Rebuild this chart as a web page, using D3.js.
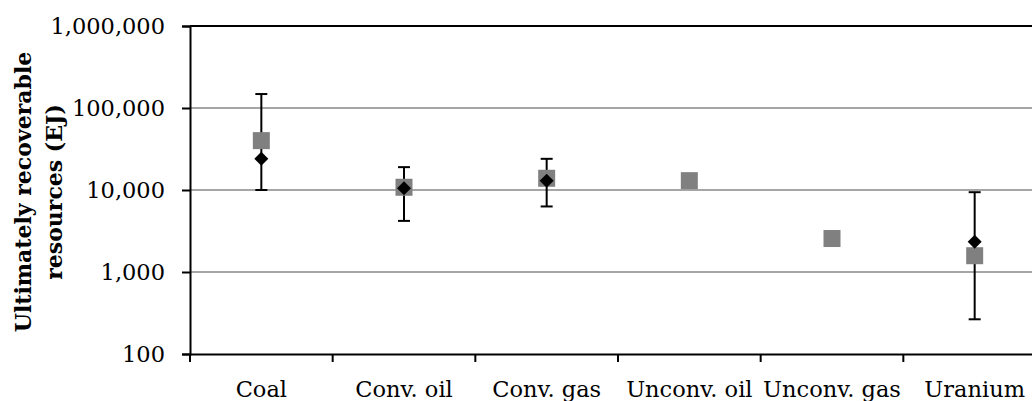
<!DOCTYPE html>
<html>
<head>
<meta charset="utf-8">
<script src="https://cdn.jsdelivr.net/npm/d3@7"></script>
<style>
    html, body { margin: 0; padding: 0; background: #fff; }
</style>
</head>
<body>
<div id="chart"></div>
<script>
const categories = ["Coal", "Conv. oil", "Conv. gas", "Unconv. oil", "Unconv. gas", "Uranium"];
// grey squares
const squareValues = [40000, 10800, 13900, 13000, 2560, 1580];
// black diamonds with their low / high range (null where there is none)
const diamondValues = [24000, 10500, 13000, null, null, 2340];
const rangeLow = [10000, 4200, 6300, null, null, 265];
const rangeHigh = [148000, 19000, 24000, null, null, 9400];
const yTicks = [100, 1000, 10000, 100000, 1000000];
const yTitle = ["Ultimately recoverable", "resources (EJ)"];

const config = {
    width: 1032,
    height: 401,
    margin: { top: 26, right: -14, bottom: 47, left: 190 },
    font: "'DejaVu Serif', serif",
    grid: "#a6a6a6",
    square: "#808080",
};

const svg = d3.select("#chart").append("svg")
    .attr("width", config.width)
    .attr("height", config.height)
    .attr("viewBox", [0, 0, config.width, config.height]);

const x = d3.scaleBand()
    .domain(categories)
    .range([config.margin.left, config.width - config.margin.right]);

const y = d3.scaleLog()
    .domain([100, 1000000])
    .range([config.height - config.margin.bottom, config.margin.top]);

const fmt = d3.format(",");

// gridlines
svg.append("g")
    .selectAll("line")
    .data(yTicks.slice(1, -1))
    .join("line")
    .attr("x1", x.range()[0])
    .attr("x2", x.range()[1])
    .attr("y1", d => y(d))
    .attr("y2", d => y(d))
    .attr("stroke", config.grid)
    .attr("stroke-width", 2);

// top border of the plot area
svg.append("line")
    .attr("x1", x.range()[0])
    .attr("x2", x.range()[1])
    .attr("y1", y(1000000))
    .attr("y2", y(1000000))
    .attr("stroke", "#000")
    .attr("stroke-width", 2);

// y axis
svg.append("g")
    .attr("transform", `translate(${config.margin.left},0)`)
    .call(d3.axisLeft(y).tickValues(yTicks).tickFormat(fmt).tickSize(8).tickPadding(17))
    .call(g => g.selectAll(".domain").attr("stroke-width", 2))
    .call(g => g.selectAll(".tick line").attr("stroke-width", 2))
    .call(g => g.selectAll("text")
        .attr("font-family", config.font)
        .attr("font-size", 22.5)
        .attr("fill", "#000"));

// x axis
const xAxis = svg.append("g")
    .attr("transform", `translate(0,${y(100)})`)
    .call(d3.axisBottom(x).tickSize(0).tickPadding(27))
    .call(g => g.selectAll(".domain").attr("stroke-width", 2))
    .call(g => g.selectAll("text")
        .attr("font-family", config.font)
        .attr("font-size", 22.5)
        .attr("fill", "#000"));

// category boundary ticks
xAxis.append("g")
    .selectAll("line")
    .data(categories)
    .join("line")
    .attr("x1", d => x(d))
    .attr("x2", d => x(d))
    .attr("y1", 0)
    .attr("y2", 8)
    .attr("stroke", "#000")
    .attr("stroke-width", 2);

// y title
const title = svg.append("text")
    .attr("transform", `translate(0,${(y(100) + y(1000000)) / 2 + 2}) rotate(-90)`)
    .attr("text-anchor", "middle")
    .attr("font-family", config.font)
    .attr("font-weight", "bold")
    .attr("font-size", 22);
title.selectAll("tspan")
    .data(yTitle)
    .join("tspan")
    .attr("x", 0)
    .attr("y", (d, i) => 31 + i * 31)
    .text(d => d);

const cx = d => x(d) + x.bandwidth() / 2;

// error bars
const bars = svg.append("g")
    .attr("stroke", "#000")
    .attr("stroke-width", 2)
    .selectAll("g")
    .data(categories.map((c, i) => ({ c, lo: rangeLow[i], hi: rangeHigh[i] })).filter(d => d.lo != null))
    .join("g");

bars.append("line")
    .attr("x1", d => cx(d.c))
    .attr("x2", d => cx(d.c))
    .attr("y1", d => y(d.lo))
    .attr("y2", d => y(d.hi));

bars.selectAll(".cap")
    .data(d => [{ c: d.c, v: d.lo }, { c: d.c, v: d.hi }])
    .join("line")
    .attr("class", "cap")
    .attr("x1", d => cx(d.c) - 6)
    .attr("x2", d => cx(d.c) + 6)
    .attr("y1", d => y(d.v))
    .attr("y2", d => y(d.v));

// squares
svg.append("g")
    .selectAll("rect")
    .data(categories.map((c, i) => ({ c, v: squareValues[i] })))
    .join("rect")
    .attr("x", d => cx(d.c) - 8.5)
    .attr("y", d => y(d.v) - 8.5)
    .attr("width", 17)
    .attr("height", 17)
    .attr("fill", config.square);

// diamonds
svg.append("g")
    .selectAll("path")
    .data(categories.map((c, i) => ({ c, v: diamondValues[i] })).filter(d => d.v != null))
    .join("path")
    .attr("transform", d => `translate(${cx(d.c)},${y(d.v)})`)
    .attr("d", "M0,-7L7,0L0,7L-7,0Z")
    .attr("fill", "#000");
</script>
</body>
</html>
